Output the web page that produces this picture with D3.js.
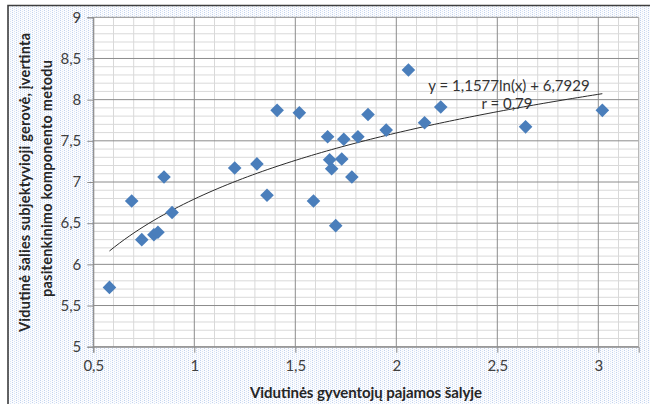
<!DOCTYPE html>
<html>
<head>
<meta charset="utf-8">
<script src="https://cdn.jsdelivr.net/npm/d3@7"></script>
<style>
  html, body { margin: 0; padding: 0; background: #fff; }
  svg { display: block; }
  text { font-family: Lato, "Liberation Sans", sans-serif; }
</style>
</head>
<body>
<svg id="chart" width="650" height="404"></svg>
<script>
// ---- data ----
const incomeX = [0.58, 0.69, 0.74, 0.80, 0.82, 0.85, 0.89, 1.20, 1.31, 1.36,
                 1.41, 1.52, 1.59, 1.66, 1.67, 1.68, 1.70, 1.73, 1.74, 1.78,
                 1.81, 1.86, 1.95, 2.06, 2.14, 2.22, 2.64, 3.02];
const wellbeingY = [5.72, 6.77, 6.30, 6.36, 6.39, 7.06, 6.63, 7.17, 7.22, 6.84,
                    7.87, 7.84, 6.77, 7.55, 7.27, 7.16, 6.47, 7.28, 7.52, 7.06,
                    7.55, 7.82, 7.63, 8.36, 7.72, 7.91, 7.67, 7.87];
const xTickValues = [0.5, 1, 1.5, 2, 2.5, 3];
const xTickLabels = ["0,5", "1", "1,5", "2", "2,5", "3"];
const yTickValues = [5, 5.5, 6, 6.5, 7, 7.5, 8, 8.5, 9];
const yTickLabels = ["5", "5,5", "6", "6,5", "7", "7,5", "8", "8,5", "9"];
const trendCoef = [1.1577, 6.7929];           // y = a*ln(x) + b
const trendLabel = "y = 1,1577ln(x) + 6,7929";
const rLabel = "r = 0,79";
const xTitle = "Vidutinės gyventojų pajamos šalyje";
const yTitleLines = ["Vidutinė šalies subjektyvioji gerovė, įvertinta",
                     "pasitenkinimo komponento metodu"];

const points = incomeX.map((x, i) => ({ x, y: wellbeingY[i] }));

// ---- layout ----
const svg = d3.select("#chart");
const W = 650, H = 404;
const plot = { left: 93.3, right: 638.7, top: 17.3, bottom: 346.7 };

const x = d3.scaleLinear().domain([0.5, 3.2]).range([plot.left, plot.right]);
const y = d3.scaleLinear().domain([5, 9]).range([plot.bottom, plot.top]);

// background pattern (dotted chart area)
const defs = svg.append("defs");
const pat = defs.append("pattern").attr("id", "dots")
  .attr("patternUnits", "userSpaceOnUse").attr("width", 4).attr("height", 4);
pat.append("rect").attr("width", 4).attr("height", 4).attr("fill", "#fbfcfe");
pat.append("rect").attr("x", 0).attr("y", 0).attr("width", 1).attr("height", 1).attr("fill", "#c3d3ee");
pat.append("rect").attr("x", 0).attr("y", 2).attr("width", 1).attr("height", 1).attr("fill", "#c3d3ee");
pat.append("rect").attr("x", 2).attr("y", 1).attr("width", 1).attr("height", 1).attr("fill", "#dbe5f5");
pat.append("rect").attr("x", 2).attr("y", 3).attr("width", 1).attr("height", 1).attr("fill", "#dbe5f5");

svg.append("rect").attr("width", W).attr("height", H).attr("fill", "#fff");
svg.append("rect").attr("x", 8).attr("y", 5.5).attr("width", W).attr("height", H)
  .attr("fill", "url(#dots)");
// outer border (top and left visible)
svg.append("path").attr("d", `M8,${H}V5.5H${W}`)
  .attr("fill", "none").attr("stroke", "#3f3f3f").attr("stroke-width", 1.6);

// plot area
svg.append("rect").attr("x", plot.left).attr("y", plot.top)
  .attr("width", plot.right - plot.left).attr("height", plot.bottom - plot.top)
  .attr("fill", "#fff");

// minor gridlines
const minorX = d3.range(5, 33).map(d => d / 10);
const minorY = d3.range(50, 91).map(d => d / 10);
const isMajor = v => Math.abs(v * 2 - Math.round(v * 2)) < 1e-6;

const grid = svg.append("g");
grid.selectAll("line.vx").data(minorX.filter(v => !isMajor(v))).join("line")
  .attr("x1", d => x(d)).attr("x2", d => x(d))
  .attr("y1", plot.top).attr("y2", plot.bottom)
  .attr("stroke", "#d9d9d9").attr("stroke-width", 1);
grid.selectAll("line.hy").data(minorY.filter(v => !isMajor(v))).join("line")
  .attr("y1", d => y(d)).attr("y2", d => y(d))
  .attr("x1", plot.left).attr("x2", plot.right)
  .attr("stroke", "#d9d9d9").attr("stroke-width", 1);
// major gridlines
grid.selectAll("line.mx").data(xTickValues).join("line")
  .attr("x1", d => x(d)).attr("x2", d => x(d))
  .attr("y1", plot.top).attr("y2", plot.bottom)
  .attr("stroke", "#8c8c8c").attr("stroke-width", 1);
grid.selectAll("line.my").data(yTickValues).join("line")
  .attr("y1", d => y(d)).attr("y2", d => y(d))
  .attr("x1", plot.left).attr("x2", plot.right)
  .attr("stroke", "#8c8c8c").attr("stroke-width", 1);
// right border of plot
svg.append("line").attr("x1", plot.right).attr("x2", plot.right)
  .attr("y1", plot.top).attr("y2", plot.bottom)
  .attr("stroke", "#b0b0b0");

// axes
const xAxis = d3.axisBottom(x).tickValues(xTickValues)
  .tickFormat((d, i) => xTickLabels[i]).tickSize(6).tickPadding(8);
const yAxis = d3.axisLeft(y).tickValues(yTickValues)
  .tickFormat((d, i) => yTickLabels[i]).tickSize(6).tickPadding(6);

const gx = svg.append("g").attr("transform", `translate(0,${plot.bottom})`).call(xAxis);
const gy = svg.append("g").attr("transform", `translate(${plot.left},0)`).call(yAxis);
[gx, gy].forEach(g => {
  g.select(".domain").attr("stroke", "#8c8c8c");
  g.selectAll(".tick line").attr("stroke", "#8c8c8c");
  g.selectAll(".tick text").attr("fill", "#404040")
    .style("font-size", "15px").style("font-family", "Lato, sans-serif");
});

// trend line
const xr = d3.extent(incomeX);
const trendXs = d3.range(0, 101).map(i => xr[0] + (xr[1] - xr[0]) * i / 100);
const line = d3.line().x(d => x(d)).y(d => y(trendCoef[0] * Math.log(d) + trendCoef[1]));
svg.append("path").datum(trendXs).attr("d", line)
  .attr("fill", "none").attr("stroke", "#2b2b2b").attr("stroke-width", 1);

// points (diamonds)
svg.append("g").selectAll("path").data(points).join("path")
  .attr("transform", d => `translate(${x(d.x)},${y(d.y)})`)
  .attr("d", "M0,-6.8L6.8,0L0,6.8L-6.8,0Z")
  .attr("fill", "#4a7ebb");

// equation labels
svg.append("text").attr("x", 509).attr("y", 91).attr("text-anchor", "middle")
  .attr("fill", "#333").style("font-size", "15px").text(trendLabel);
svg.append("text").attr("x", 507).attr("y", 109).attr("text-anchor", "middle")
  .attr("fill", "#333").style("font-size", "15px").text(rLabel);

// axis titles
svg.append("text").attr("x", (plot.left + plot.right) / 2).attr("y", 398)
  .attr("text-anchor", "middle").attr("fill", "#262626")
  .attr("textLength", 232).attr("lengthAdjust", "spacing")
  .style("font-size", "15px").style("font-weight", "bold").text(xTitle);

svg.append("text").attr("transform", `translate(30,182.5) rotate(-90)`)
  .attr("text-anchor", "middle").attr("fill", "#262626")
  .attr("textLength", 299).attr("lengthAdjust", "spacing")
  .style("font-size", "14.5px").style("font-weight", "bold").text(yTitleLines[0]);
svg.append("text").attr("transform", `translate(51.5,178.5) rotate(-90)`)
  .attr("text-anchor", "middle").attr("fill", "#262626")
  .attr("textLength", 237).attr("lengthAdjust", "spacing")
  .style("font-size", "14.5px").style("font-weight", "bold").text(yTitleLines[1]);
</script>
</body>
</html>
